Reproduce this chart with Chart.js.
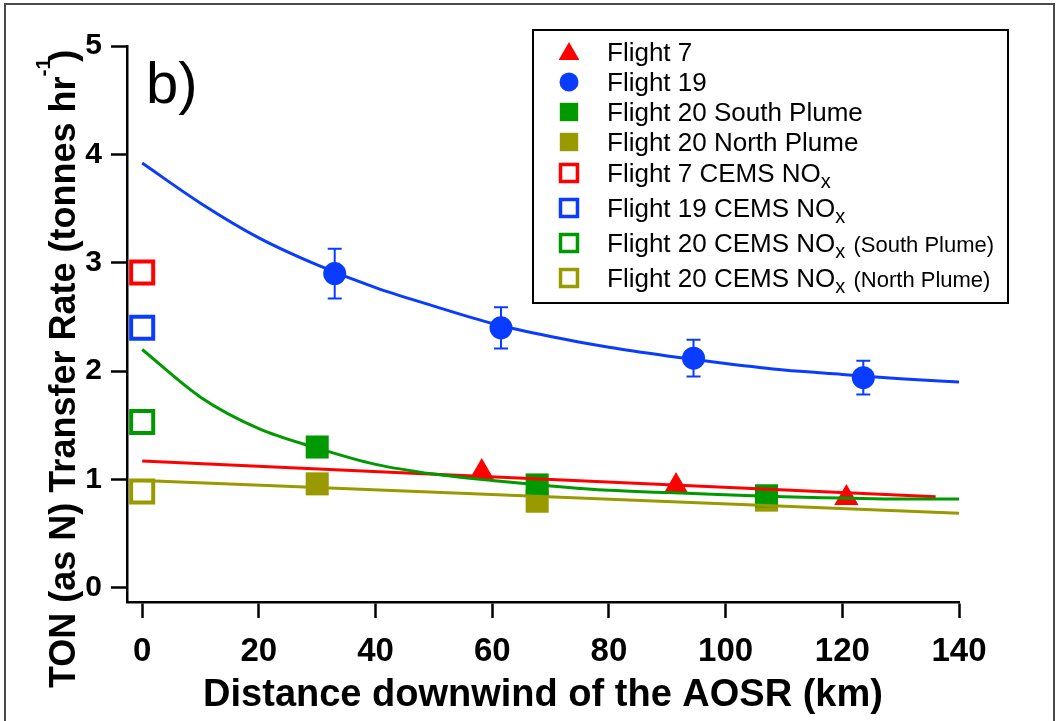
<!DOCTYPE html>
<html>
<head>
<meta charset="utf-8">
<script src="https://cdn.jsdelivr.net/npm/chart.js@4.4.1/dist/chart.umd.min.js"></script>
<style>
html, body { margin: 0; padding: 0; background: #fff; overflow: hidden; }
#wrap { position: relative; width: 1058px; height: 721px; }
#frame { position: absolute; left: 4px; top: 3px; width: 1047px; height: 740px; border: 2px solid #4a4a4a; pointer-events: none; }
</style>
</head>
<body>
<div id="wrap"><canvas id="chart"></canvas><div id="frame"></div></div>
<script>
// Values
const flight7X = [58.2, 91.5, 120.7];
const flight7Y = [1.07, 0.94, 0.83];
const flight19X = [33.0, 61.5, 94.5, 123.6];
const flight19Y = [2.90, 2.40, 2.12, 1.94];
const flight19Err = [0.23, 0.19, 0.17, 0.155];
const southX = [30.0, 67.7, 107.0];
const southY = [1.30, 0.95, 0.85];
const northX = [30.0, 67.7, 107.0];
const northY = [0.96, 0.80, 0.81];
const cemsX = [0];
const cemsF7 = [2.91];
const cemsF19 = [2.40];
const cemsSouth = [1.53];
const cemsNorth = [0.89];

// Fit curves, read at fixed distances
const fitX = [0, 10, 20, 30, 40, 50, 60, 70, 80, 90, 100, 110, 120, 130, 140];
const fit19Y = [3.92, 3.55, 3.23, 2.98, 2.77, 2.60, 2.44, 2.32, 2.22, 2.14, 2.07, 2.01, 1.97, 1.93, 1.90];
const fitSouthY = [2.20, 1.76, 1.47, 1.29, 1.14, 1.05, 0.99, 0.94, 0.90, 0.88, 0.86, 0.84, 0.83, 0.82, 0.82];
const fit7X = [0, 136];
const fit7Y = [1.17, 0.84];
const fitNorthX = [0, 140];
const fitNorthY = [0.99, 0.69];

const xTicks = [0, 20, 40, 60, 80, 100, 120, 140];
const yTicks = [0, 1, 2, 3, 4, 5];

const xTitle = 'Distance downwind of the AOSR (km)';
const yTitleMain = 'TON (as N) Transfer Rate (tonnes hr';
const yTitleSup = '-1';
const yTitleEnd = ')';
const panelLabel = 'b)';
// "_x" = subscript, {...} = small text
const legendLabels = [
    'Flight 7',
    'Flight 19',
    'Flight 20 South Plume',
    'Flight 20 North Plume',
    'Flight 7 CEMS NO_x',
    'Flight 19 CEMS NO_x',
    'Flight 20 CEMS NO_x {(South Plume)}',
    'Flight 20 CEMS NO_x {(North Plume)}'
];

const RED = '#ff0000';
const BLUE = '#0a3cff';
const GREEN = '#009900';
const OLIVE = '#999900';
const FONT = "'Liberation Sans', Arial, sans-serif";

const pts = (xs, ys) => xs.map((x, i) => ({ x, y: ys[i] }));

function fitLine(xs, ys, color) {
    return {
        data: pts(xs, ys),
        borderColor: color,
        backgroundColor: color,
        borderWidth: 3,
        pointRadius: 0,
        cubicInterpolationMode: 'monotone',
        order: 1
    };
}

function markers(label, xs, ys, style, radius, color, open) {
    return {
        label,
        data: pts(xs, ys),
        showLine: false,
        pointStyle: style,
        pointRadius: radius,
        pointHoverRadius: radius,
        pointBackgroundColor: open ? 'rgba(255,255,255,0)' : color,
        pointBorderColor: color,
        pointBorderWidth: open ? 4 : 0,
        borderColor: color,
        backgroundColor: color,
        order: 2
    };
}

const datasets = [
    markers(legendLabels[0], flight7X, flight7Y, 'triangle', 14, RED, false),
    markers(legendLabels[1], flight19X, flight19Y, 'circle', 11.5, BLUE, false),
    markers(legendLabels[2], southX, southY, 'rect', 16.3, GREEN, false),
    markers(legendLabels[3], northX, northY, 'rect', 16.3, OLIVE, false),
    markers(legendLabels[4], cemsX, cemsF7, 'rect', 15.6, RED, true),
    markers(legendLabels[5], cemsX, cemsF19, 'rect', 15.6, BLUE, true),
    markers(legendLabels[6], cemsX, cemsSouth, 'rect', 15.6, GREEN, true),
    markers(legendLabels[7], cemsX, cemsNorth, 'rect', 15.6, OLIVE, true),
    fitLine(fitX, fit19Y, BLUE),
    fitLine(fitX, fitSouthY, GREEN),
    fitLine(fit7X, fit7Y, RED),
    fitLine(fitNorthX, fitNorthY, OLIVE)
];

// error bars for Flight 19
const errorBars = {
    id: 'errorBars',
    afterDatasetsDraw(chart) {
        const ctx = chart.ctx;
        const xs = chart.scales.x, ys = chart.scales.y;
        ctx.save();
        ctx.strokeStyle = BLUE;
        ctx.lineWidth = 2;
        flight19X.forEach((x, i) => {
            const px = xs.getPixelForValue(x);
            const top = ys.getPixelForValue(flight19Y[i] + flight19Err[i]);
            const bot = ys.getPixelForValue(flight19Y[i] - flight19Err[i]);
            ctx.beginPath();
            ctx.moveTo(px, top); ctx.lineTo(px, bot);
            ctx.moveTo(px - 7, top); ctx.lineTo(px + 7, top);
            ctx.moveTo(px - 7, bot); ctx.lineTo(px + 7, bot);
            ctx.stroke();
        });
        ctx.restore();
    }
};

function drawMarker(ctx, style, r, x, y, fill, stroke, lw) {
    ctx.beginPath();
    if (style === 'circle') {
        ctx.arc(x, y, r, 0, Math.PI * 2);
    } else if (style === 'triangle') {
        ctx.moveTo(x, y - r);
        ctx.lineTo(x + r * Math.sin(Math.PI * 2 / 3), y + r / 2);
        ctx.lineTo(x - r * Math.sin(Math.PI * 2 / 3), y + r / 2);
        ctx.closePath();
    } else {
        const s = r * Math.SQRT1_2;
        ctx.rect(x - s, y - s, 2 * s, 2 * s);
    }
    ctx.fillStyle = fill;
    ctx.fill();
    if (lw > 0) { ctx.lineWidth = lw; ctx.strokeStyle = stroke; ctx.stroke(); }
}

function parseLabel(str) {
    const parts = [];
    let buf = '';
    for (let i = 0; i < str.length; i++) {
        const c = str[i];
        if (c === '_') {
            if (buf) parts.push({ t: buf, k: 'n' }); buf = '';
            parts.push({ t: str[i + 1], k: 'sub' }); i++;
        } else if (c === '{') {
            if (buf) parts.push({ t: buf, k: 'n' }); buf = '';
            const end = str.indexOf('}', i);
            parts.push({ t: str.slice(i + 1, end), k: 'small' }); i = end;
        } else buf += c;
    }
    if (buf) parts.push({ t: buf, k: 'n' });
    return parts;
}

const legendBox = {
    id: 'legendBox',
    afterDraw(chart) {
        const ctx = chart.ctx;
        ctx.save();
        ctx.lineWidth = 2;
        ctx.strokeStyle = '#000';
        ctx.strokeRect(533, 30, 475, 273);
        const items = chart.data.datasets.filter(d => d.label);
        items.forEach((d, i) => {
            const y = i < 4 ? 52 + 30 * i : 173 + 35 * (i - 4);
            const open = d.pointBorderWidth > 0;
            const r = d.pointStyle === 'circle' ? 9.5 : d.pointStyle === 'triangle' ? 12 : (open ? 12 : 13);
            const my = d.pointStyle === 'triangle' ? y + 2 : y;
            drawMarker(ctx, d.pointStyle, r, 569, my, d.pointBackgroundColor, d.pointBorderColor, open ? 3.5 : 0);
            let x = 607;
            ctx.fillStyle = '#000';
            ctx.textBaseline = 'alphabetic';
            ctx.textAlign = 'left';
            const base = y + 9;
            parseLabel(d.label).forEach(p => {
                if (p.k === 'sub') {
                    ctx.font = '20px ' + FONT;
                    ctx.fillText(p.t, x, base + 6);
                } else if (p.k === 'small') {
                    ctx.font = '22px ' + FONT;
                    ctx.fillText(p.t, x, base);
                } else {
                    ctx.font = '26px ' + FONT;
                    ctx.fillText(p.t, x, base);
                }
                x += ctx.measureText(p.t).width;
                if (p.k === 'sub') x += 1;
            });
        });
        ctx.restore();
    }
};

const extraText = {
    id: 'extraText',
    afterDraw(chart) {
        const ctx = chart.ctx;
        ctx.save();
        ctx.fillStyle = '#000';
        ctx.textAlign = 'left';
        ctx.textBaseline = 'alphabetic';
        ctx.font = '58px ' + FONT;
        ctx.fillText(panelLabel, 146, 103);

        ctx.translate(75, 688);
        ctx.rotate(-Math.PI / 2);
        ctx.font = 'bold 36px ' + FONT;
        ctx.fillText(yTitleMain, 0, 0);
        let x = ctx.measureText(yTitleMain).width;
        ctx.font = 'bold 21px ' + FONT;
        ctx.fillText(yTitleSup, x, -25);
        x += ctx.measureText(yTitleSup).width;
        ctx.font = 'bold 36px ' + FONT;
        ctx.fillText(yTitleEnd, x - 4, 0);
        ctx.restore();
    }
};

const axisCommon = {
    type: 'linear',
    grid: {
        display: true,
        drawOnChartArea: false,
        drawTicks: true,
        tickLength: 16,
        tickWidth: 2.5,
        tickColor: '#000',
        color: '#000'
    },
    border: { display: true, color: '#000', width: 2.5 }
};

new Chart(document.getElementById('chart'), {
    type: 'line',
    data: { datasets },
    options: {
        responsive: true,
        maintainAspectRatio: false,
        animation: false,
        events: [],
        layout: { padding: { left: 0, right: 99, top: 46, bottom: 0 } },
        plugins: { legend: { display: false }, tooltip: { enabled: false } },
        scales: {
            x: {
                ...axisCommon,
                min: -2.6,
                max: 140,
                afterBuildTicks: s => { s.ticks = xTicks.map(v => ({ value: v })); },
                afterFit: s => { s.height = 119; },
                ticks: {
                    color: '#000',
                    padding: 14,
                    maxRotation: 0,
                    autoSkip: false,
                    font: { family: FONT, size: 33, weight: 'bold' }
                },
                title: {
                    display: true,
                    text: xTitle,
                    color: '#000',
                    padding: { top: 0, bottom: 6 },
                    font: { family: FONT, size: 38, weight: 'bold', lineHeight: 1 }
                }
            },
            y: {
                ...axisCommon,
                min: -0.13,
                max: 5,
                afterBuildTicks: s => { s.ticks = yTicks.map(v => ({ value: v })); },
                afterFit: s => { s.width = 127; },
                ticks: {
                    color: '#000',
                    padding: 9,
                    autoSkip: false,
                    font: { family: FONT, size: 30, weight: 'bold' }
                }
            }
        }
    },
    plugins: [errorBars, legendBox, extraText]
});
</script>
</body>
</html>
